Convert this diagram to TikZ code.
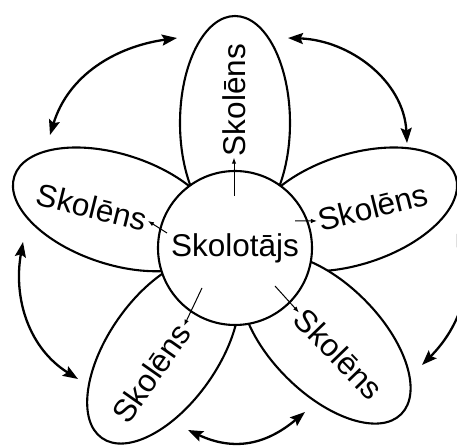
\documentclass[tikz,border=0pt]{standalone}
\usepackage{fontspec}
\setmainfont{Liberation Sans}
\usetikzlibrary{shapes.geometric,arrows.meta}
\begin{document}
\begin{tikzpicture}[x=1pt,y=1pt,
  petal/.style={ellipse,draw,line width=2.1pt,fill=white,
    minimum width=214pt,minimum height=110pt,inner sep=0pt},
  hub/.style={circle,draw,line width=2.1pt,fill=white,minimum size=154pt,
    inner sep=0pt,font=\fontsize{31.5}{31.5}\selectfont},
  pupil/.style={font=\fontsize{31.5}{31.5}\selectfont,inner sep=1.5pt},
  link/.style={line width=1pt,-{Latex[length=6pt,width=4.5pt]}},
  swap/.style={line width=2.3pt,
    {Stealth[length=15pt,width=11pt,inset=2.5pt]}-{Stealth[length=15pt,width=11pt,inset=2.5pt]}}
]
\useasboundingbox (-235,-198) rectangle (222,248);

% five petals around the hub
\node[petal,rotate=90]  (p1) at (90:125)  {};
\node[petal,rotate=18]  (p2) at (18:125)  {};
\node[petal,rotate=-45] (p3) at (-45:128) {};
\node[petal,rotate=235] (p4) at (235:125) {};
\node[petal,rotate=162] (p5) at (162:125) {};

% the hub
\node[hub] (c) at (0,0) {Skolotājs};

% petal labels
\node[pupil,rotate=90]  (t1) at (-1,148)    {Skolēns};
\node[pupil,rotate=14]  (t2) at (138,41)    {Skolēns};
\node[pupil,rotate=-46] (t3) at (104,-106)  {Skolēns};
\node[pupil,rotate=55]  (t4) at (-84,-125)  {Skolēns};
\node[pupil,rotate=-14] (t5) at (-143,41)   {Skolēns};

% arrows from the hub to each label
\coordinate (s1) at (-1,52);
\coordinate (s2) at (60,27);
\coordinate (s3) at (40,-38);
\coordinate (s4) at (-33,-40);
\coordinate (s5) at (-68,15);
\draw[link] (s1) -- (t1.west);
\draw[link] (s2) -- (t2.west);
\draw[link] (s3) -- (t3.west);
\draw[link] (s4) -- (t4.east);
\draw[link] (s5) -- (t5.east);

% exchange arrows between neighbouring petals
\coordinate (a1) at (-185,113); \coordinate (b1) at (-58,210);
\coordinate (a2) at (53,210);   \coordinate (b2) at (172,105);
\coordinate (a3) at (222,17);   \coordinate (b3) at (187,-117);
\coordinate (a4) at (-47,-182); \coordinate (b4) at (70,-164);
\coordinate (a5) at (-212,6);   \coordinate (b5) at (-157,-131);
\draw[swap] (a1) to[out=73,in=188] (b1);
\draw[swap] (a2) to[out=-2,in=93] (b2);
\draw[swap] (a3) to[out=-70,in=45] (b3);
\draw[swap] (a4) to[out=-25,in=220,looseness=1.1] (b4);
\draw[swap] (a5) to[out=260,in=148] (b5);
\end{tikzpicture}
\end{document}
